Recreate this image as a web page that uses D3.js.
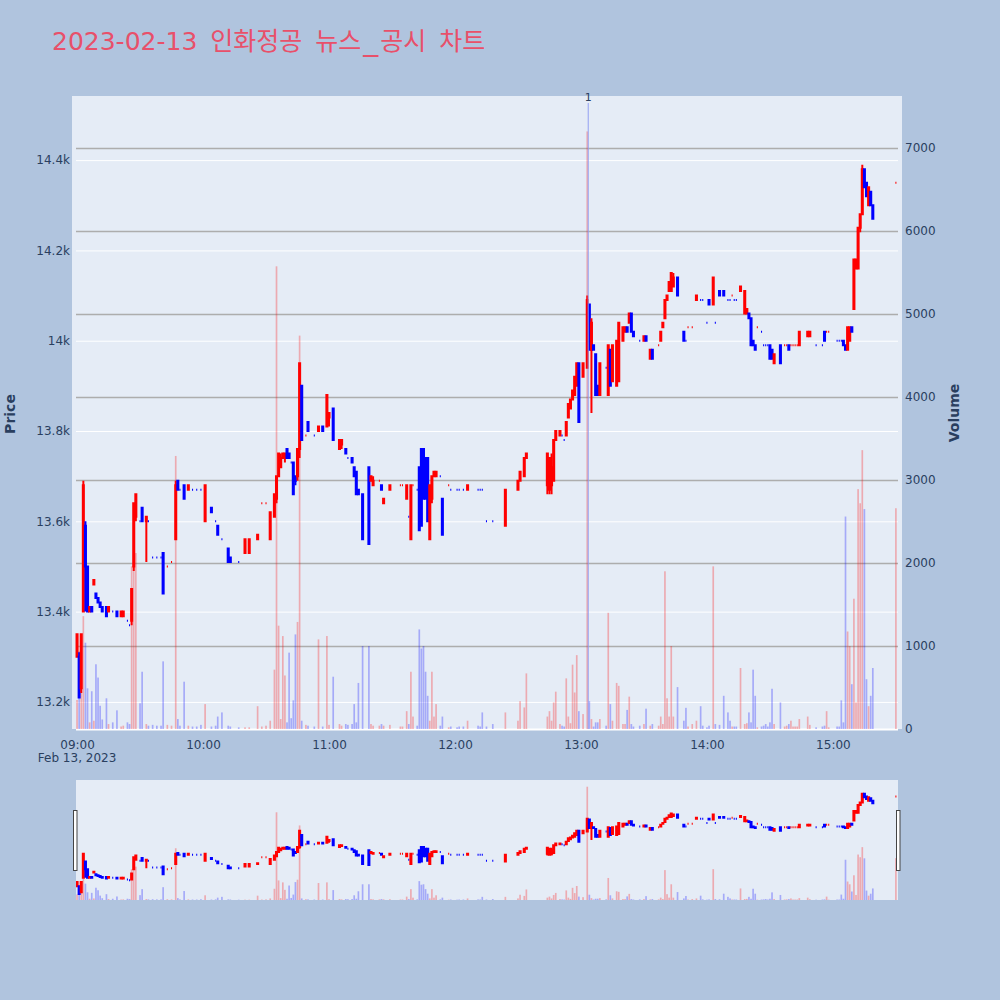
<!DOCTYPE html>
<html>
<head>
<meta charset="utf-8">
<script src="https://cdn.jsdelivr.net/npm/d3@7"></script>
<style>
    body { margin: 0; background: #b0c4de; }
    svg { display: block; }
    text { font-family: "DejaVu Sans", Verdana, sans-serif; fill: #2a3f5f; }
</style>
</head>
<body>
<div id="chart"></div>
<script>
// Data: one row per traded minute (2023-02-13)
//==============================================================
var times = [
    "09:00","09:01","09:02","09:03","09:04","09:05","09:06","09:07","09:08","09:09","09:10","09:11","09:12","09:14","09:15","09:17","09:19","09:21","09:22","09:24","09:25","09:26","09:27","09:28","09:30","09:31","09:33","09:34","09:36","09:38","09:40","09:41","09:43","09:45","09:47","09:48","09:49","09:51","09:53","09:55","09:57","09:59",
    "10:01","10:04","10:06","10:07","10:09","10:12","10:13","10:17","10:20","10:22","10:26","10:28","10:30","10:32","10:34","10:35","10:36","10:37","10:38","10:39","10:40","10:41","10:42","10:43","10:44","10:45","10:46","10:47","10:49","10:50","10:53","10:55","10:57","10:59",
    "11:00","11:02","11:05","11:06","11:08","11:09","11:11","11:12","11:13","11:14","11:16","11:19","11:20","11:21","11:24","11:25","11:26","11:29","11:34","11:35","11:37","11:38","11:39","11:40","11:42","11:43","11:44","11:45","11:46","11:47","11:48","11:49","11:50","11:51","11:53","11:54","11:57","11:58",
    "12:01","12:02","12:04","12:06","12:11","12:12","12:13","12:15","12:18","12:24","12:30","12:31","12:33","12:34","12:44","12:45","12:46","12:47","12:48","12:50","12:51","12:52","12:53","12:54","12:55","12:56","12:57","12:58","12:59",
    "13:01","13:03","13:04","13:05","13:06","13:07","13:08","13:09","13:12","13:13","13:14","13:15","13:17","13:18","13:20","13:21","13:22","13:23","13:24","13:25","13:28","13:30","13:31","13:33","13:34","13:37","13:38","13:39","13:40","13:41","13:42","13:43","13:44","13:46","13:49","13:50","13:51","13:53","13:55","13:57","13:58",
    "14:00","14:01","14:03","14:04","14:06","14:08","14:10","14:11","14:12","14:13","14:14","14:16","14:18","14:19","14:20","14:21","14:22","14:23","14:24","14:26","14:27","14:28","14:29","14:30","14:31","14:32","14:35","14:37","14:38","14:39","14:40","14:41","14:42","14:43","14:44","14:48","14:49","14:52","14:55","14:56","14:57","14:58",
    "15:02","15:03","15:04","15:05","15:06","15:07","15:08","15:09","15:10","15:11","15:12","15:13","15:14","15:15","15:16","15:17","15:18","15:19","15:30"
];

var open = [
    13300,13300,13230,13400,13590,13500,13400,13410,13460,13440,13430,13420,13410,13410,13400,13400,13400,13390,13390,13380,13370,13380,13500,13610,13600,13630,13600,13600,13520,13520,13520,13530,13500,13510,13560,13690,13670,13680,13670,13670,13670,13670,
    13600,13630,13600,13590,13560,13540,13520,13510,13530,13530,13560,13640,13640,13560,13610,13650,13700,13720,13740,13740,13760,13750,13730,13730,13700,13700,13760,13900,13790,13820,13790,13800,13810,13810,
    13830,13850,13760,13770,13760,13740,13740,13720,13710,13670,13660,13720,13690,13680,13690,13680,13640,13670,13680,13680,13650,13610,13560,13680,13670,13720,13760,13760,13740,13740,13560,13650,13700,13700,13700,13650,13680,13670,
    13670,13670,13670,13670,13670,13670,13670,13600,13600,13590,13670,13690,13700,13740,13680,13670,13680,13690,13780,13790,13790,13780,13790,13830,13850,13870,13880,13900,13950,
    13920,13940,14080,13980,13990,13970,13900,13880,13940,13880,13980,13910,13900,13910,14000,14020,14030,14040,14060,14020,14000,14000,14010,13960,13980,13990,14000,14030,14050,14090,14110,14110,14120,14140,14020,14000,14030,14030,14090,14090,14090,
    14040,14090,14080,14040,14110,14110,14090,14090,14100,14090,14090,14110,14060,14060,14060,14050,14000,13990,14030,14020,13990,13990,13990,13990,13980,13950,13990,13990,13990,13990,13990,13990,13990,13990,13990,14010,14010,13990,13990,14020,14020,14020,
    14000,14000,14000,14000,13990,13980,14000,14030,14070,14160,14160,14250,14280,14380,14350,14300,14330,14300,14350
];

var high = [
    13350,13310,13350,13690,13600,13500,13410,13410,13470,13440,13430,13420,13410,13410,13410,13400,13400,13400,13400,13380,13370,13450,13640,13660,13600,13630,13610,13600,13520,13520,13520,13530,13500,13510,13690,13690,13670,13680,13680,13670,13670,13670,
    13680,13630,13600,13590,13560,13540,13520,13510,13560,13560,13570,13640,13640,13620,13660,13700,13750,13750,13750,13750,13760,13750,13730,13730,13700,13760,13950,13900,13790,13820,13790,13810,13810,13880,
    13840,13850,13780,13780,13760,13740,13740,13720,13710,13670,13660,13720,13700,13700,13690,13680,13650,13680,13680,13680,13680,13610,13680,13680,13670,13720,13760,13760,13740,13740,13680,13700,13710,13710,13700,13650,13680,13670,
    13670,13670,13670,13680,13670,13670,13670,13600,13600,13670,13690,13710,13740,13750,13750,13740,13750,13780,13800,13800,13790,13780,13820,13860,13870,13890,13920,13950,13950,
    13950,14100,14080,14050,13990,13970,13900,13950,13940,13990,13980,13990,14000,14040,14030,14030,14030,14060,14060,14020,14000,14010,14010,13980,13980,13990,14020,14040,14090,14100,14130,14150,14150,14140,14020,14000,14030,14030,14100,14090,14090,
    14040,14090,14140,14040,14110,14110,14090,14090,14100,14090,14090,14120,14110,14070,14060,14050,14000,13990,14030,14020,13990,13990,13990,13990,13980,13970,13990,13990,13990,13990,13990,13990,13990,13990,14020,14020,14020,13990,13990,14020,14020,14020,
    14000,14000,14000,14000,13990,14030,14030,14030,14180,14180,14250,14280,14390,14380,14350,14340,14330,14300,14350
];

var low = [
    13300,13210,13220,13400,13400,13400,13400,13400,13460,13430,13420,13410,13400,13390,13400,13400,13390,13390,13390,13380,13370,13370,13490,13600,13600,13600,13510,13600,13520,13520,13520,13440,13500,13510,13560,13670,13670,13650,13670,13670,13670,13670,
    13600,13620,13600,13570,13560,13510,13510,13510,13530,13530,13560,13640,13640,13560,13610,13640,13700,13720,13740,13730,13740,13740,13730,13660,13680,13690,13740,13780,13790,13800,13790,13800,13800,13810,
    13810,13780,13760,13760,13750,13740,13730,13700,13660,13660,13560,13550,13690,13680,13690,13670,13640,13670,13680,13680,13650,13610,13560,13680,13670,13580,13590,13650,13650,13600,13560,13640,13700,13700,13700,13570,13680,13670,
    13670,13670,13670,13670,13670,13670,13670,13600,13600,13590,13670,13690,13700,13740,13660,13660,13660,13690,13780,13790,13790,13780,13790,13830,13850,13870,13880,13900,13820,
    13920,13940,13980,13840,13980,13880,13880,13880,13940,13880,13900,13910,13900,13910,14000,14020,14020,14040,14020,14010,14000,14000,14000,13960,13960,13990,14000,14030,14050,14090,14110,14110,14120,14100,14000,14000,14030,14030,14090,14090,14090,
    14040,14080,14080,14040,14100,14100,14090,14090,14100,14090,14090,14110,14060,14060,14050,13990,13990,13980,14030,14020,13990,13990,13990,13960,13960,13950,13950,13990,13990,13980,13990,13990,13990,13990,13990,14010,14010,13990,13990,14000,14020,14020,
    14000,14000,14000,13990,13980,13980,14000,14020,14070,14160,14160,14240,14280,14340,14320,14300,14300,14270,14350
];

var close = [
    13350,13210,13350,13680,13500,13400,13410,13400,13470,13430,13420,13410,13400,13390,13410,13400,13390,13400,13400,13380,13370,13450,13640,13660,13600,13600,13610,13600,13520,13520,13520,13440,13500,13510,13680,13670,13670,13650,13680,13670,13670,13670,
    13680,13620,13600,13570,13560,13510,13510,13510,13560,13560,13570,13640,13640,13620,13660,13700,13750,13740,13750,13750,13740,13740,13730,13660,13690,13760,13950,13780,13790,13800,13790,13810,13800,13880,
    13840,13780,13780,13780,13750,13740,13730,13700,13660,13660,13560,13550,13700,13690,13690,13670,13650,13680,13680,13680,13680,13610,13680,13680,13670,13580,13590,13650,13650,13600,13680,13700,13710,13710,13700,13570,13680,13670,
    13670,13670,13670,13680,13670,13670,13670,13600,13600,13670,13690,13710,13740,13750,13750,13740,13720,13780,13800,13800,13790,13780,13820,13860,13870,13890,13920,13950,13820,
    13950,14090,13980,14040,13980,13880,13880,13950,13940,13990,13900,13990,14000,14040,14030,14030,14020,14060,14020,14010,14000,14010,14000,13980,13960,13990,14020,14040,14090,14100,14130,14150,14140,14100,14000,14000,14030,14030,14100,14090,14090,
    14040,14080,14140,14040,14100,14100,14090,14090,14100,14090,14090,14120,14110,14070,14050,13990,13990,13980,14030,14020,13990,13990,13990,13960,13960,13970,13950,13990,13990,13980,13990,13990,13990,13990,14020,14020,14020,13990,13990,14000,14020,14020,
    14000,14000,14000,13990,13980,14030,14030,14020,14180,14180,14250,14280,14380,14340,14320,14340,14300,14270,14350
];

var volume = [
    350,935,500,1360,1040,490,80,455,100,780,620,280,115,370,60,80,225,30,40,80,60,1960,1960,2120,310,690,60,40,50,40,40,815,50,40,3290,120,40,570,40,30,30,50,
    300,30,40,150,200,40,30,20,20,20,275,30,40,100,715,5575,1245,120,1120,645,80,920,130,345,1140,1290,4740,100,50,40,30,1080,30,1120,
    50,630,60,40,60,50,60,300,80,555,1000,1000,60,40,40,60,40,50,30,30,215,60,690,150,40,1200,970,1000,690,400,100,690,150,300,40,150,20,30,
    20,30,30,100,40,30,200,30,60,200,100,335,260,670,150,215,100,320,450,60,40,30,610,150,70,775,440,890,215,
    180,7200,335,120,30,80,80,120,40,1400,300,100,555,520,60,60,230,390,60,30,40,60,245,40,60,40,150,60,1900,370,150,1000,150,505,100,255,30,60,100,275,40,
    20,40,1960,60,50,400,200,100,30,30,30,735,60,70,200,80,715,400,20,30,40,60,30,80,485,60,320,30,40,60,100,30,30,30,120,150,50,20,30,40,215,20,
    30,30,345,80,2560,1175,1000,540,1570,320,2890,2720,3360,2650,600,275,400,735,2660
];

var priceTicks = [13200, 13400, 13600, 13800, 14000, 14200, 14400];
var volumeTicks = [0, 1000, 2000, 3000, 4000, 5000, 6000, 7000];
var timeTicks = ["09:00", "10:00", "11:00", "12:00", "13:00", "14:00", "15:00"];
var newsTimes = ["13:03"];
var newsLabels = ["1"];

var chartTitle = "2023-02-13 인화정공 뉴스_공시 차트";

// Step One: Set up the chart
//==============================================================
var svgWidth = 1000;
var svgHeight = 1000;

var plot = { left: 76, right: 898, top: 96, bottom: 729 };
var slider = { top: 780, bottom: 900 };

var upColor = "#ff0000";
var downColor = "#0000ff";

var parseTime = d3.timeParse("%Y-%m-%d %H:%M");
var day = "2023-02-13";

var candles = times.map(function(t, i) {
    return { date: parseTime(day + " " + t), o: open[i], h: high[i], l: low[i], c: close[i], v: volume[i] };
});

// direction: doji candles follow the previous close
candles.forEach(function(d, i) {
    if (d.c > d.o) d.up = true;
    else if (d.c < d.o) d.up = false;
    else if (i === 0) d.up = true;
    else if (d.c > candles[i - 1].c) d.up = true;
    else if (d.c < candles[i - 1].c) d.up = false;
    else d.up = candles[i - 1].up;
});

var svg = d3.select("#chart")
    .append("svg")
    .attr("width", svgWidth)
    .attr("height", svgHeight);

// Step Two: scales
//==============================================================
var xTimeScale = d3.scaleTime()
    .domain([parseTime(day + " 08:59").getTime() + 30000, parseTime(day + " 15:31")])
    .range([plot.left, plot.right]);

var priceDomain = [13140, 14542];
var volumeDomain = [0, 7627];

var yPriceScale = d3.scaleLinear().domain(priceDomain).range([plot.bottom, plot.top]);
var yVolumeScale = d3.scaleLinear().domain(volumeDomain).range([plot.bottom, plot.top]);

var yPriceMini = d3.scaleLinear().domain(priceDomain).range([slider.bottom, slider.top]);
var yVolumeMini = d3.scaleLinear().domain(volumeDomain).range([slider.bottom, slider.top]);

var minuteWidth = xTimeScale(parseTime(day + " 09:01")) - xTimeScale(parseTime(day + " 09:00"));
var halfBox = minuteWidth * 0.25;
var barWidth = minuteWidth * 0.8;

// title (the underscore gets a little room, like the original font)
var titleParts = chartTitle.split("_");
var title = svg.append("text")
    .attr("x", 52)
    .attr("y", 50)
    .style("font-family", "'DejaVu Sans', 'Noto Sans CJK KR', sans-serif")
    .style("font-size", "25px")
    .style("word-spacing", "5px")
    .style("fill", "#e8506a");
title.append("tspan").text(titleParts[0]);
title.append("tspan").attr("dx", 2).style("font-size", "30px").text("_");
title.append("tspan").attr("dx", 2).text(titleParts[1]);

// Step Three: background + gridlines
//==============================================================
svg.append("rect")
    .attr("x", 72)
    .attr("y", plot.top)
    .attr("width", 902 - 72)
    .attr("height", plot.bottom - plot.top)
    .attr("fill", "#e5ecf6");

var priceAxis = d3.axisLeft(yPriceScale)
    .tickValues(priceTicks)
    .tickSize(-(plot.right - plot.left))
    .tickPadding(6)
    .tickFormat(function(d) { return d3.format("~s")(d).replace(".0k", "k"); });

var priceAxisG = svg.append("g")
    .attr("transform", `translate(${plot.left}, 0)`)
    .call(priceAxis);
priceAxisG.select(".domain").remove();
priceAxisG.selectAll(".tick line").attr("stroke", "#ffffff").attr("stroke-width", 1);
priceAxisG.selectAll(".tick text")
    .attr("x", 70 - plot.left)
    .style("font-size", "12px");

var volumeAxis = d3.axisRight(yVolumeScale)
    .tickValues(volumeTicks)
    .tickSize(-(plot.right - plot.left))
    .tickPadding(5)
    .tickFormat(d3.format("d"));

var volumeAxisG = svg.append("g")
    .attr("transform", `translate(${plot.right}, 0)`)
    .call(volumeAxis);
volumeAxisG.select(".domain").remove();
volumeAxisG.selectAll(".tick line")
    .attr("stroke", function(d) { return d === 0 ? "#ffffff" : "#adadad"; })
    .attr("stroke-width", function(d) { return d === 0 ? 2 : 1.6; });
volumeAxisG.selectAll(".tick text")
    .attr("x", 905 - plot.right)
    .style("font-size", "12px");

svg.selectAll(".tick text").style("fill", "#2a3f5f");

// Step Four: marks
//==============================================================
function candlePath(d, ys) {
    var cx = xTimeScale(d.date);
    var yo = ys(d.o), yc = ys(d.c), yh = ys(d.h), yl = ys(d.l);
    var top = Math.min(yo, yc), bot = Math.max(yo, yc);
    return "M" + cx + "," + yh + "V" + top +
        "M" + (cx - halfBox) + "," + top + "H" + (cx + halfBox) + "V" + bot + "H" + (cx - halfBox) + "Z" +
        "M" + cx + "," + bot + "V" + yl;
}

function drawSeries(group, yPrice, yVol) {
    group.selectAll("rect.vol")
        .data(candles)
        .enter()
        .append("rect")
        .attr("class", "vol")
        .attr("x", d => xTimeScale(d.date) - barWidth / 2)
        .attr("width", barWidth)
        .attr("y", d => yVol(d.v))
        .attr("height", d => yVol(0) - yVol(d.v))
        .attr("fill", d => d.up ? upColor : downColor)
        .attr("opacity", 0.28);

    group.selectAll("path.candle")
        .data(candles)
        .enter()
        .append("path")
        .attr("class", "candle")
        .attr("d", d => candlePath(d, yPrice))
        .attr("fill", d => d.up ? upColor : downColor)
        .attr("stroke", d => d.up ? upColor : downColor)
        .attr("stroke-width", 2);
}

var mainGroup = svg.append("g");
drawSeries(mainGroup, yPriceScale, yVolumeScale);

// news marker
newsTimes.forEach(function(t, i) {
    var nx = xTimeScale(parseTime(day + " " + t)) + 1;
    svg.append("line")
        .attr("x1", nx).attr("x2", nx)
        .attr("y1", 103).attr("y2", plot.bottom)
        .attr("stroke", "#8f9cf2")
        .attr("stroke-opacity", 0.8)
        .attr("stroke-width", 1.2);
    svg.append("text")
        .attr("x", nx)
        .attr("y", 101)
        .attr("text-anchor", "middle")
        .style("font-size", "11px")
        .text(newsLabels[i]);
});

// x axis labels
var xAxisG = svg.append("g")
    .attr("transform", `translate(0, ${plot.bottom})`)
    .call(d3.axisBottom(xTimeScale)
        .tickValues(timeTicks.map(t => parseTime(day + " " + t)))
        .tickSize(0)
        .tickPadding(11)
        .tickFormat(d3.timeFormat("%H:%M")));
xAxisG.select(".domain").remove();
xAxisG.selectAll(".tick text").style("font-size", "12px").style("fill", "#2a3f5f");

svg.append("text")
    .attr("x", xTimeScale(parseTime(day + " 09:00")))
    .attr("y", 762)
    .attr("text-anchor", "middle")
    .style("font-size", "12px")
    .text("Feb 13, 2023");

// axis titles
svg.append("text")
    .attr("transform", "translate(15, 414) rotate(-90)")
    .attr("text-anchor", "middle")
    .style("font-size", "14px")
    .style("font-weight", "bold")
    .text("Price");

svg.append("text")
    .attr("transform", "translate(959, 413) rotate(-90)")
    .attr("text-anchor", "middle")
    .style("font-size", "14px")
    .style("font-weight", "bold")
    .text("Volume");

// Step Five: range slider
//==============================================================
svg.append("rect")
    .attr("x", plot.left)
    .attr("y", slider.top)
    .attr("width", plot.right - plot.left)
    .attr("height", slider.bottom - slider.top)
    .attr("fill", "#e5ecf6");

svg.append("clipPath")
    .attr("id", "sliderClip")
    .append("rect")
    .attr("x", plot.left)
    .attr("y", slider.top)
    .attr("width", plot.right - plot.left + 2)
    .attr("height", slider.bottom - slider.top);

var miniGroup = svg.append("g").attr("clip-path", "url(#sliderClip)");
drawSeries(miniGroup, yPriceMini, yVolumeMini);

[73.5, 896.5].forEach(function(hx) {
    svg.append("rect")
        .attr("x", hx)
        .attr("y", 810.5)
        .attr("width", 3.5)
        .attr("height", 60)
        .attr("fill", "#ffffff")
        .attr("stroke", "#444444")
        .attr("stroke-width", 1);
});
</script>
</body>
</html>
